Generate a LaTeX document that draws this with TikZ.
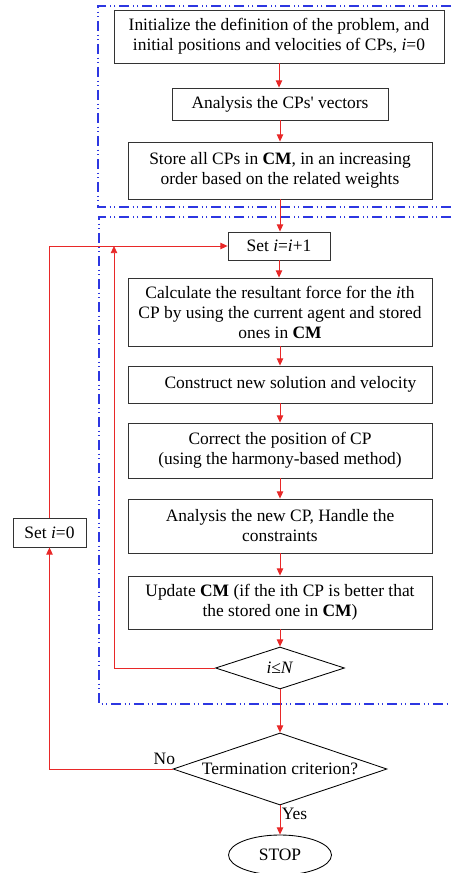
\documentclass[tikz,border=0pt]{standalone}
\usepackage{fontspec}
\setmainfont{Liberation Serif}
\usetikzlibrary{shapes.geometric,arrows.meta}

\definecolor{flowred}{RGB}{232,40,40}
\definecolor{frameblue}{RGB}{45,55,225}

\begin{document}
\begin{tikzpicture}[x=0.7pt,y=-0.7pt,
    font=\fontsize{12.2}{14}\selectfont,
    stepbox/.style={draw=black!80,line width=0.6pt,align=center,inner sep=0pt},
    testbox/.style={draw=black,line width=0.6pt,diamond,shape aspect=3,align=center,inner sep=0pt},
    endbox/.style={draw=black,line width=0.6pt,ellipse,inner sep=0pt},
    flow/.style={draw=flowred,line width=0.6pt,-{Triangle[length=5pt,width=4.5pt]}},
    frame/.style={draw=frameblue,line width=1pt,
        dash pattern=on 7pt off 2.5pt on 0.8pt off 2.5pt on 0.8pt off 2.5pt}
]
    \useasboundingbox (0,0) rectangle (451,873);

    % Dash-dot frames
    \draw[frame] (451,6) -- (98,6) -- (98,207) -- (451,207);
    \draw[frame] (451,217) -- (99,217) -- (99,704) -- (451,704);

    % Initial steps
    \node[stepbox,minimum width=231pt,minimum height=37.1pt] (init) at (279,36.5)
        {Initialize the definition of the problem, and\\
         initial positions and velocities of CPs, \textit{i}=0};
    \node[stepbox,minimum width=151.2pt,minimum height=22.4pt] (vec) at (280,104)
        {Analysis the CPs\textquotesingle{} vectors};
    \node[stepbox,minimum width=212.8pt,minimum height=39.9pt] (store) at (280,170.5)
        {Store all CPs in \textbf{CM}, in an increasing\\
         order based on the related weights};

    % Main loop
    \node[stepbox,minimum width=71.4pt,minimum height=19.6pt] (seti) at (279,246)
        {Set \textit{i}=\textit{i}+1};
    \node[stepbox,minimum width=212.8pt,minimum height=47.6pt] (calc) at (280,312)
        {Calculate the resultant force for the \textit{i}th\\
         CP by using the current agent and stored\\
         ones in \textbf{CM}};
    \node[stepbox,minimum width=212.8pt,minimum height=25.9pt] (cons) at (280,384.5)
        {\hspace{1.2em}Construct new solution and velocity};
    \node[stepbox,minimum width=212.8pt,minimum height=38.5pt] (corr) at (280,450.5)
        {Correct the position of CP\\
         (using the harmony-based method)};
    \node[stepbox,minimum width=212.8pt,minimum height=37.8pt] (anal) at (280,526)
        {Analysis the new CP, Handle the\\
         constraints};
    \node[stepbox,minimum width=212.8pt,minimum height=37.1pt] (upd) at (280,602.5)
        {Update \textbf{CM} (if the ith CP is better that\\
         the stored one in \textbf{CM})};
    \node[testbox,minimum width=90.3pt,minimum height=29.4pt] (dec1) at (280,668)
        {\textit{i}≤\textit{N}};

    % Termination
    \node[testbox,minimum width=149.8pt,minimum height=50.4pt] (term) at (280,769)
        {Termination criterion?};
    \node[endbox,minimum width=72.1pt,minimum height=28pt] (stop) at (280,855)
        {STOP};
    \node[stepbox,minimum width=51.1pt,minimum height=20.3pt] (set0) at (49.5,532.5)
        {Set \textit{i}=0};

    % Connectors
    \foreach \a/\b in {init/vec,vec/store,store/seti,seti/calc,calc/cons,
                       cons/corr,corr/anal,anal/upd,upd/dec1,dec1/term} {
        \draw[flow] (\a.south) -- (\a.south |- \b.north);
    }
    \draw[flow] (term.south) -- node[pos=0.3,anchor=west,inner sep=1pt] {Yes} (stop.north);
    \draw[flow] (term.west) node[anchor=south east,inner sep=1pt,yshift=2pt,xshift=3pt] {No}
        -| (set0.south);
    \draw[flow] (set0.north) |- (seti.west);
    \coordinate (back) at (114,246);
    \draw[flow] (dec1.west) -| (back);
\end{tikzpicture}
\end{document}
